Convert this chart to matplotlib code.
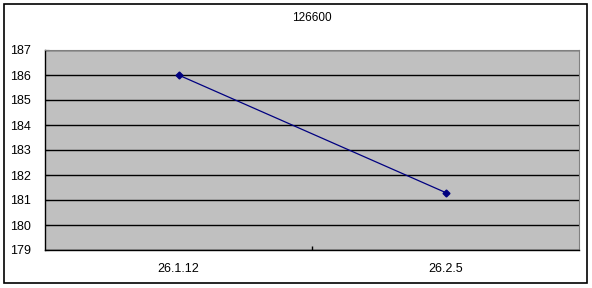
import matplotlib.pyplot as plt
from matplotlib.patches import Rectangle

# Data
dates = ['26.1.12', '26.2.5']
values = [186.0, 181.3]
title = '126600'

W, H = 592, 288
fig = plt.figure(figsize=(W / 100, H / 100), dpi=100)
plt.rcParams['font.family'] = ['Liberation Sans', 'DejaVu Sans']

# outer chart frame
fig.patches.append(Rectangle((4 / W, 1 - 283 / H), 583 / W, 279 / H,
                             transform=fig.transFigure, fill=False,
                             edgecolor='black', linewidth=1.2))

ax = fig.add_axes([45 / W, 1 - 250 / H, 534 / W, 200 / H])
ax.set_facecolor('#c0c0c0')

x = range(len(dates))
ax.plot(x, values, color='#000080', linewidth=0.9, marker='D', markersize=3.5,
        zorder=3)

ax.set_xlim(-0.5, len(dates) - 0.5)
ax.set_ylim(179, 187)
ax.set_yticks(range(179, 188))
ax.grid(axis='y', color='black', linewidth=1.0)
ax.set_axisbelow(True)

ax.set_xticks(list(x))
ax.set_xticklabels(dates)
ax.tick_params(axis='x', length=0, pad=9, labelsize=9)
ax.set_xticks([i + 0.5 for i in range(len(dates) - 1)], minor=True)
ax.tick_params(axis='x', which='minor', direction='in', length=3, width=1)
ax.tick_params(axis='y', direction='in', length=3, pad=10, labelsize=9)

for s in ['top', 'right']:
    ax.spines[s].set_color('#808080')
for s in ['left', 'bottom']:
    ax.spines[s].set_color('black')
    ax.spines[s].set_linewidth(1.0)

fig.text(312 / W, 1 - 18 / H, title, ha='center', va='center', fontsize=8.5)

fig.savefig('out.png', dpi=100)
